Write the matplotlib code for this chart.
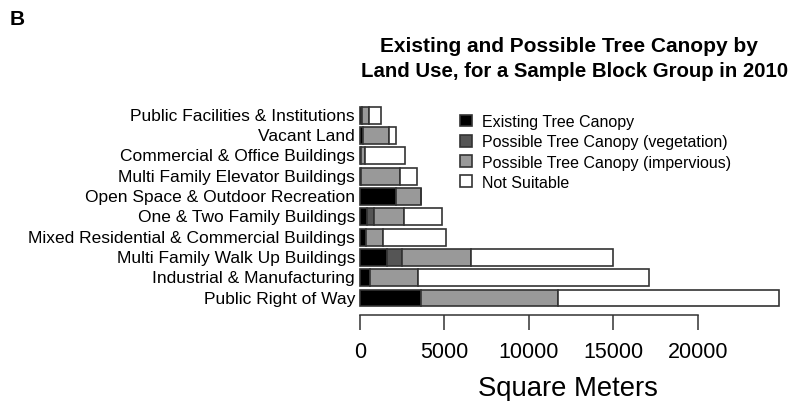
import matplotlib
matplotlib.use("Agg")
import matplotlib.pyplot as plt
import matplotlib.transforms as mtransforms
import numpy as np

plt.rcParams['font.family'] = ['Liberation Sans', 'DejaVu Sans']

# land use classes, bottom bar first
land_use = ["Public Right of Way",
            "Industrial & Manufacturing",
            "Multi Family Walk Up Buildings",
            "Mixed Residential & Commercial Buildings",
            "One & Two Family Buildings",
            "Open Space & Outdoor Recreation",
            "Multi Family Elevator Buildings",
            "Commercial & Office Buildings",
            "Vacant Land",
            "Public Facilities & Institutions"]

# square meters per class
existing = [3610, 590, 1580, 335, 395, 2130, 30, 60, 150, 140]
possible_veg = [0, 0, 925, 0, 450, 0, 0, 0, 40, 0]
possible_imp = [8090, 2865, 4065, 1045, 1758, 1460, 2340, 255, 1545, 410]
not_suitable = [13130, 13675, 8430, 3710, 2265, 0, 990, 2345, 395, 680]

series = [existing, possible_veg, possible_imp, not_suitable]
series_names = ["Existing Tree Canopy",
                "Possible Tree Canopy (vegetation)",
                "Possible Tree Canopy (impervious)",
                "Not Suitable"]
colors = ["black", "#555555", "#999999", "white"]

W, H = 792, 402
fig = plt.figure(figsize=(W / 100, H / 100), dpi=100)

# axes placed in pixel terms
left_px, right_px = 343, 792
bottom_px, top_px = 316, 104
ax = fig.add_axes([left_px / W, 1 - bottom_px / H,
                   (right_px - left_px) / W, (bottom_px - top_px) / H])

px_per_unit = (697.7 - 360) / 20000
ax.set_xlim(-(360 - left_px) / px_per_unit, (right_px - 360) / px_per_unit)
ax.set_ylim(-0.836, 9.6)

y = np.arange(len(land_use))
left = np.zeros(len(land_use))
handles = []
for vals, name, c in zip(series, series_names, colors):
    vals = np.array(vals, dtype=float)
    b = ax.barh(y, vals, left=left, height=0.83, color=c,
                edgecolor="#333333", linewidth=1.2, label=name)
    handles.append(b)
    left += vals

for s in ["top", "right", "left"]:
    ax.spines[s].set_visible(False)
ax.spines["bottom"].set_bounds(0, 20000)
ax.spines["bottom"].set_linewidth(1.1)
ax.spines["bottom"].set_color("#333333")
ax.set_xticks([0, 5000, 10000, 15000, 20000])
ax.tick_params(axis="x", length=10.5, width=1.1, color="#333333",
               labelsize=15.5, pad=8)
ax.set_yticks([])

# category labels, right aligned just left of the bars
trans = mtransforms.blended_transform_factory(fig.transFigure, ax.transData)
for yi, lab in zip(y, land_use):
    ax.text(355 / W, yi, lab, transform=trans, ha="right", va="center",
            fontsize=12.5, clip_on=False)

fig.text(568 / W, 1 - 396.5 / H, "Square Meters", ha="center",
         va="baseline", fontsize=19.8)

fig.text(569 / W, 1 - 52 / H, "Existing and Possible Tree Canopy by",
         ha="center", va="baseline", fontsize=15, fontweight="bold")
fig.text(575 / W, 1 - 77 / H, "Land Use, for a Sample Block Group in 2010",
         ha="center", va="baseline", fontsize=14.7, fontweight="bold")
fig.text(10 / W, 1 - 25 / H, "B", ha="left", va="baseline",
         fontsize=15, fontweight="bold")

ax.legend(handles=handles, loc="upper left", frameon=False,
          bbox_to_anchor=(460 / W, 1 - 115 / H),
          bbox_transform=fig.transFigure, fontsize=11.5,
          handlelength=0.75, handleheight=0.75, handletextpad=0.6,
          labelspacing=0.33, borderpad=0, borderaxespad=0)

fig.savefig("out.png", dpi=100)
